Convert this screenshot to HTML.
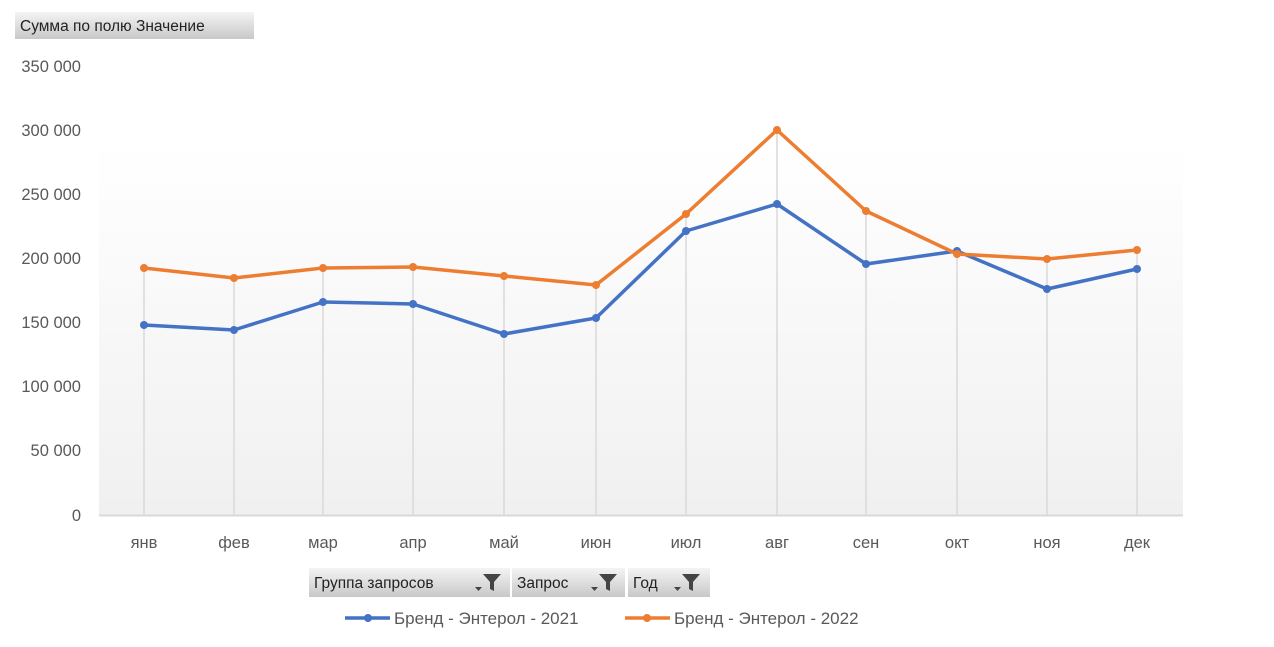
<!DOCTYPE html>
<html><head><meta charset="utf-8"><style>
body{margin:0;background:#fff;width:1274px;height:642px;overflow:hidden;font-family:"Liberation Sans","DejaVu Sans",sans-serif}
</style></head><body>
<svg width="1274" height="642" xmlns="http://www.w3.org/2000/svg">
<defs>
<linearGradient id="bg" x1="0" y1="0" x2="0" y2="1"><stop offset="0" stop-color="#ffffff"/><stop offset="1" stop-color="#f0f0f0"/></linearGradient>
<linearGradient id="btn" x1="0" y1="0" x2="0" y2="1"><stop offset="0" stop-color="#f4f4f4"/><stop offset="1" stop-color="#c8c8c8"/></linearGradient>
</defs>
<rect x="99" y="143" width="1084" height="372" fill="url(#bg)"/>
<rect x="15" y="12" width="239" height="27" fill="url(#btn)"/>
<text x="20" y="31" font-size="15.5" fill="#222">Сумма по полю Значение</text>
<g font-size="16.5" fill="#595959" text-anchor="end">
<text x="81" y="72">350 000</text><text x="81" y="136">300 000</text><text x="81" y="200">250 000</text><text x="81" y="264">200 000</text><text x="81" y="328">150 000</text><text x="81" y="392">100 000</text><text x="81" y="456">50 000</text><text x="81" y="521">0</text>
</g>
<g stroke="#d9d9d9" stroke-width="1.5">
<line x1="144" y1="268" x2="144" y2="515"/><line x1="234" y1="278" x2="234" y2="515"/><line x1="323" y1="268" x2="323" y2="515"/><line x1="413" y1="267" x2="413" y2="515"/><line x1="504" y1="276" x2="504" y2="515"/><line x1="596" y1="285" x2="596" y2="515"/><line x1="686" y1="214" x2="686" y2="515"/><line x1="777" y1="130" x2="777" y2="515"/><line x1="866" y1="211" x2="866" y2="515"/><line x1="957" y1="251" x2="957" y2="515"/><line x1="1047" y1="259" x2="1047" y2="515"/><line x1="1137" y1="250" x2="1137" y2="515"/>
</g>
<line x1="99" y1="515.5" x2="1183" y2="515.5" stroke="#d9d9d9" stroke-width="2"/>
<g font-size="16.5" fill="#595959" text-anchor="middle">
<text x="144" y="548">янв</text><text x="234" y="548">фев</text><text x="323" y="548">мар</text><text x="413" y="548">апр</text><text x="504" y="548">май</text><text x="596" y="548">июн</text><text x="686" y="548">июл</text><text x="777" y="548">авг</text><text x="866" y="548">сен</text><text x="957" y="548">окт</text><text x="1047" y="548">ноя</text><text x="1137" y="548">дек</text>
</g>
<polyline fill="none" stroke="#4472c4" stroke-width="3.5" stroke-linejoin="round" points="144,325 234,330 323,302 413,304 504,334 596,318 686,231 777,204 866,264 957,251 1047,289 1137,269"/>
<g fill="#4472c4"><circle cx="144" cy="325" r="4"/><circle cx="234" cy="330" r="4"/><circle cx="323" cy="302" r="4"/><circle cx="413" cy="304" r="4"/><circle cx="504" cy="334" r="4"/><circle cx="596" cy="318" r="4"/><circle cx="686" cy="231" r="4"/><circle cx="777" cy="204" r="4"/><circle cx="866" cy="264" r="4"/><circle cx="957" cy="251" r="4"/><circle cx="1047" cy="289" r="4"/><circle cx="1137" cy="269" r="4"/></g>
<polyline fill="none" stroke="#ed7d31" stroke-width="3.5" stroke-linejoin="round" points="144,268 234,278 323,268 413,267 504,276 596,285 686,214 777,130 866,211 957,254 1047,259 1137,250"/>
<g fill="#ed7d31"><circle cx="144" cy="268" r="4"/><circle cx="234" cy="278" r="4"/><circle cx="323" cy="268" r="4"/><circle cx="413" cy="267" r="4"/><circle cx="504" cy="276" r="4"/><circle cx="596" cy="285" r="4"/><circle cx="686" cy="214" r="4"/><circle cx="777" cy="130" r="4"/><circle cx="866" cy="211" r="4"/><circle cx="957" cy="254" r="4"/><circle cx="1047" cy="259" r="4"/><circle cx="1137" cy="250" r="4"/></g>
<g font-size="15.5" fill="#222">
<rect x="309" y="568" width="201" height="29" fill="url(#btn)"/><text x="314" y="588">Группа запросов</text>
<rect x="512" y="568" width="113" height="29" fill="url(#btn)"/><text x="517" y="588">Запрос</text>
<rect x="628" y="568" width="82" height="29" fill="url(#btn)"/><text x="633" y="588">Год</text>
</g>
<g fill="#444">
<path d="M475,587 h7 l-3.5,4z"/><path d="M483,574 h18 l-7,8 v9 l-4,-2 v-7z"/>
<path d="M591,587 h7 l-3.5,4z"/><path d="M599,574 h18 l-7,8 v9 l-4,-2 v-7z"/>
<path d="M674,587 h7 l-3.5,4z"/><path d="M682,574 h18 l-7,8 v9 l-4,-2 v-7z"/>
</g>
<line x1="345" y1="618" x2="390" y2="618" stroke="#4472c4" stroke-width="3.5"/><circle cx="368" cy="618" r="4" fill="#4472c4"/>
<text x="394" y="624" font-size="17" fill="#595959">Бренд - Энтерол - 2021</text>
<line x1="625" y1="618" x2="670" y2="618" stroke="#ed7d31" stroke-width="3.5"/><circle cx="647" cy="618" r="4" fill="#ed7d31"/>
<text x="674" y="624" font-size="17" fill="#595959">Бренд - Энтерол - 2022</text>
</svg>
</body></html>
